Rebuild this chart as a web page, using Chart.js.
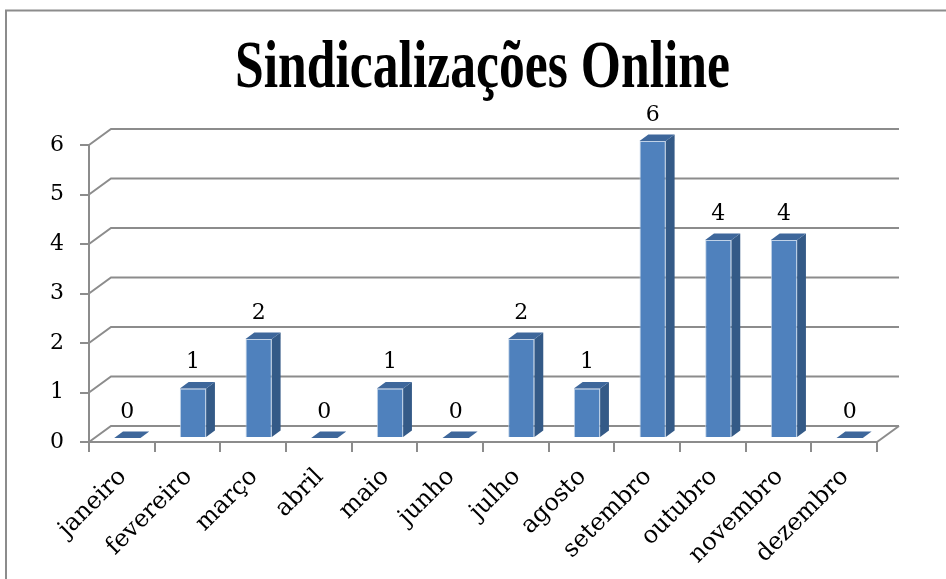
<!DOCTYPE html>
<html>
<head>
<meta charset="utf-8">
<script src="https://cdn.jsdelivr.net/npm/chart.js@4/dist/chart.umd.min.js"></script>
<style>
  html, body { margin: 0; padding: 0; background: #fff; }
  #wrap { width: 946px; height: 579px; position: relative; }
</style>
</head>
<body>
<div id="wrap"><canvas id="chart" width="946" height="579"></canvas></div>
<script>
// ── DATA ─────────────────────────────────────────────
const chartTitle = 'Sindicalizações Online';
const months = ['janeiro', 'fevereiro', 'março', 'abril', 'maio', 'junho',
                'julho', 'agosto', 'setembro', 'outubro', 'novembro', 'dezembro'];
const counts = [0, 1, 2, 0, 1, 0, 2, 1, 6, 4, 4, 0];
const yTicks = [0, 1, 2, 3, 4, 5, 6];

// ── STYLE ────────────────────────────────────────────
const gray      = '#8C8C8C';
const frontCol  = '#4F81BD';
const sideCol   = '#345A87';
const topCol    = '#3E679B';
const titleFont = "'Liberation Serif', serif";
const serif     = "'DejaVu Serif', 'Liberation Serif', serif";
const DEPTH_X   = 22;   // floor / wall depth offset
const DEPTH_Y   = -16;
const BAR_SHIFT = 0.25; // bar front face sits a quarter into the depth
const BAR_DEPTH = 0.4;

const threeD = {
  id: 'threeD',
  beforeDraw(chart) {
    const { ctx } = chart;
    ctx.save();
    // outer frame (only top and left visible)
    ctx.strokeStyle = gray;
    ctx.lineWidth = 2;
    ctx.beginPath();
    ctx.moveTo(6, 590);
    ctx.lineTo(6, 10.5);
    ctx.lineTo(960, 10.5);
    ctx.stroke();

    // title, condensed bold serif
    ctx.font = `bold 68px ${titleFont}`;
    ctx.fillStyle = '#000';
    ctx.textBaseline = 'alphabetic';
    ctx.textAlign = 'left';
    const w = ctx.measureText(chartTitle).width;
    const target = 495;
    ctx.translate(482.5 - target / 2, 87);
    ctx.scale(target / w, 1);
    ctx.fillText(chartTitle, 0, 0);
    ctx.restore();
  },
  beforeDatasetsDraw(chart) {
    const { ctx, chartArea: a, scales: { y } } = chart;
    ctx.save();
    ctx.strokeStyle = gray;
    ctx.lineWidth = 2;
    for (const v of yTicks) {
      const py = y.getPixelForValue(v);
      ctx.beginPath();
      ctx.moveTo(a.left, py);
      ctx.lineTo(a.left + DEPTH_X, py + DEPTH_Y);
      ctx.lineTo(a.right + DEPTH_X, py + DEPTH_Y);
      ctx.stroke();
    }
    // floor right edge
    ctx.beginPath();
    ctx.moveTo(a.right, a.bottom);
    ctx.lineTo(a.right + DEPTH_X, a.bottom + DEPTH_Y);
    ctx.stroke();
    ctx.restore();

    // shift the bars into the depth
    ctx.save();
    ctx.translate(DEPTH_X * BAR_SHIFT, DEPTH_Y * BAR_SHIFT);
  },
  afterDatasetsDraw(chart) {
    const { ctx } = chart;
    ctx.restore();

    const fx = DEPTH_X * BAR_SHIFT, fy = DEPTH_Y * BAR_SHIFT;
    const sx = DEPTH_X * BAR_DEPTH, sy = DEPTH_Y * BAR_DEPTH;
    const meta = chart.getDatasetMeta(0);
    ctx.save();
    meta.data.forEach((bar, i) => {
      const { x, y, base, width } = bar.getProps(['x', 'y', 'base', 'width'], true);
      const l = x - width / 2 + fx, r = x + width / 2 + fx;
      const t = y + fy, b = base + fy;
      // side face
      ctx.fillStyle = sideCol;
      ctx.beginPath();
      ctx.moveTo(r, t);
      ctx.lineTo(r + sx, t + sy);
      ctx.lineTo(r + sx, b + sy);
      ctx.lineTo(r, b);
      ctx.closePath();
      ctx.fill();
      // top face
      ctx.fillStyle = topCol;
      ctx.beginPath();
      ctx.moveTo(l, t);
      ctx.lineTo(r, t);
      ctx.lineTo(r + sx, t + sy);
      ctx.lineTo(l + sx, t + sy);
      ctx.closePath();
      ctx.fill();
      // value label
      ctx.fillStyle = '#000';
      ctx.font = `22px ${serif}`;
      ctx.textAlign = 'center';
      ctx.textBaseline = 'middle';
      ctx.fillText(String(counts[i]), x + fx, t - 26);
    });
    ctx.restore();
  }
};

new Chart(document.getElementById('chart'), {
  type: 'bar',
  data: {
    labels: months,
    datasets: [{
      data: counts,
      backgroundColor: frontCol,
      borderColor: 'rgba(185,205,230,0.9)',
      borderWidth: 1,
      barPercentage: 0.4,
      categoryPercentage: 1,
    }],
  },
  options: {
    responsive: false,
    animation: false,
    devicePixelRatio: 1,
    layout: { padding: { left: 29, right: 69, top: 145, bottom: 0 } },
    plugins: {
      legend:  { display: false },
      title:   { display: false },
      tooltip: { enabled: false },
    },
    scales: {
      x: {
        afterFit: s => { s.height = 137; },
        border: { display: true, color: gray, width: 2 },
        grid:   { drawOnChartArea: false, drawTicks: true, tickLength: 10, color: gray, lineWidth: 2, offset: true },
        ticks:  { minRotation: 45, maxRotation: 45, color: '#000', padding: 11, labelOffset: 1,
                  font: { family: serif, size: 24 } },
      },
      y: {
        min: 0,
        max: 6,
        afterFit: s => { s.width = 60; },
        border: { display: true, color: gray, width: 2 },
        grid:   { drawOnChartArea: false, drawTicks: true, tickLength: 9, color: gray, lineWidth: 2 },
        ticks:  { stepSize: 1, color: '#000', padding: 16, font: { family: serif, size: 22 } },
      },
    },
  },
  plugins: [threeD],
});
</script>
</body>
</html>
